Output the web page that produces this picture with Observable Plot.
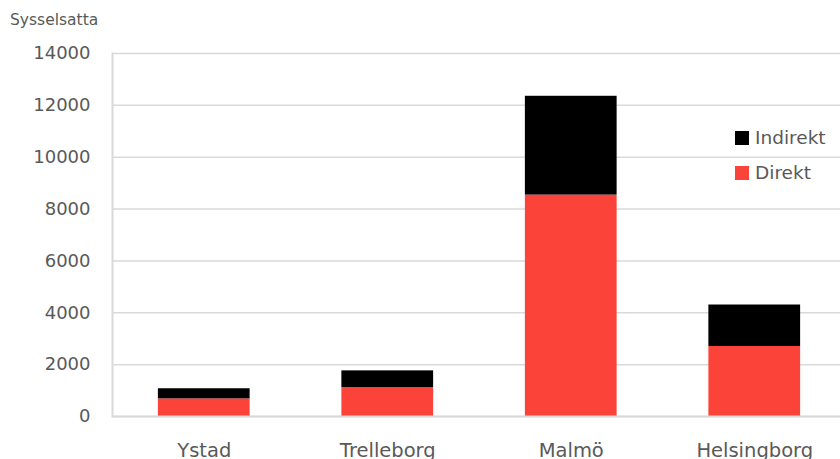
<!DOCTYPE html>
<html><head><meta charset="utf-8">
<script src="https://cdn.jsdelivr.net/npm/d3@7"></script>
<script src="https://cdn.jsdelivr.net/npm/@observablehq/plot@0.6"></script>
<style>
html,body{margin:0;padding:0;background:#fff;overflow:hidden;width:840px;height:459px;}
#wrap{position:relative;width:840px;height:459px;overflow:hidden;font-family:"DejaVu Sans",sans-serif;color:#595959;}
#title{position:absolute;left:10px;top:11px;font-size:15.5px;}
#legend{position:absolute;left:735px;top:120px;font-size:18.5px;}
.li{display:flex;align-items:center;height:35px;}
.sw{width:14px;height:14px;margin-right:6px;}
</style></head><body>
<div id="wrap"><div id="title">Sysselsatta</div><div id="legend"></div></div>
<script>
const categories = ["Ystad", "Trelleborg", "Malmö", "Helsingborg"];
const direkt = [680, 1115, 8540, 2700];
const indirekt = [390, 645, 3810, 1600];
const seriesNames = ["Direkt", "Indirekt"];
const seriesColors = ["#fc433a", "#000000"];
const yTicks = [0, 2000, 4000, 6000, 8000, 10000, 12000, 14000];

const rows = [];
categories.forEach((c, i) => {
  rows.push({cat: c, series: "Direkt", value: direkt[i]});
  rows.push({cat: c, series: "Indirekt", value: indirekt[i]});
});

const chart = Plot.plot({
  width: 846, height: 459,
  marginLeft: 112, marginRight: 0, marginTop: 53, marginBottom: 43,
  style: {fontFamily: "DejaVu Sans, sans-serif", fontSize: "18px", color: "#595959", background: "transparent"},
  x: {domain: categories, paddingInner: 0.5, paddingOuter: 0.25, align: 0.5, round: false, label: null},
  y: {domain: [0, 14000], label: null},
  color: {domain: seriesNames, range: seriesColors},
  marks: [
    Plot.gridY(yTicks, {stroke: "#d9d9d9", strokeOpacity: 1, strokeWidth: 1.5}),
    Plot.frame({anchor: "left", stroke: "#d9d9d9", strokeWidth: 2}),
    Plot.barY(rows, Plot.stackY({x: "cat", y: "value", fill: "series", order: seriesNames})),
    Plot.axisY(yTicks, {tickSize: 0, tickPadding: 22, fontSize: 18, fill: "#595959", label: null, tickFormat: d => String(d)}),
    Plot.axisX({tickSize: 0, tickPadding: 27, fontSize: 19.5, fill: "#595959", label: null}),
    Plot.ruleY([0], {stroke: "#d9d9d9", strokeWidth: 2})
  ]
});
chart.style.maxWidth = "none";
chart.style.position = "absolute"; chart.style.left = "0"; chart.style.top = "0";
document.getElementById("wrap").prepend(chart);

const leg = document.getElementById("legend");
[["Indirekt", "#000000"], ["Direkt", "#fc433a"]].forEach(([n, c]) => {
  const d = document.createElement("div"); d.className = "li";
  d.innerHTML = `<span class="sw" style="background:${c}"></span><span>${n}</span>`;
  leg.appendChild(d);
});
</script></body></html>
